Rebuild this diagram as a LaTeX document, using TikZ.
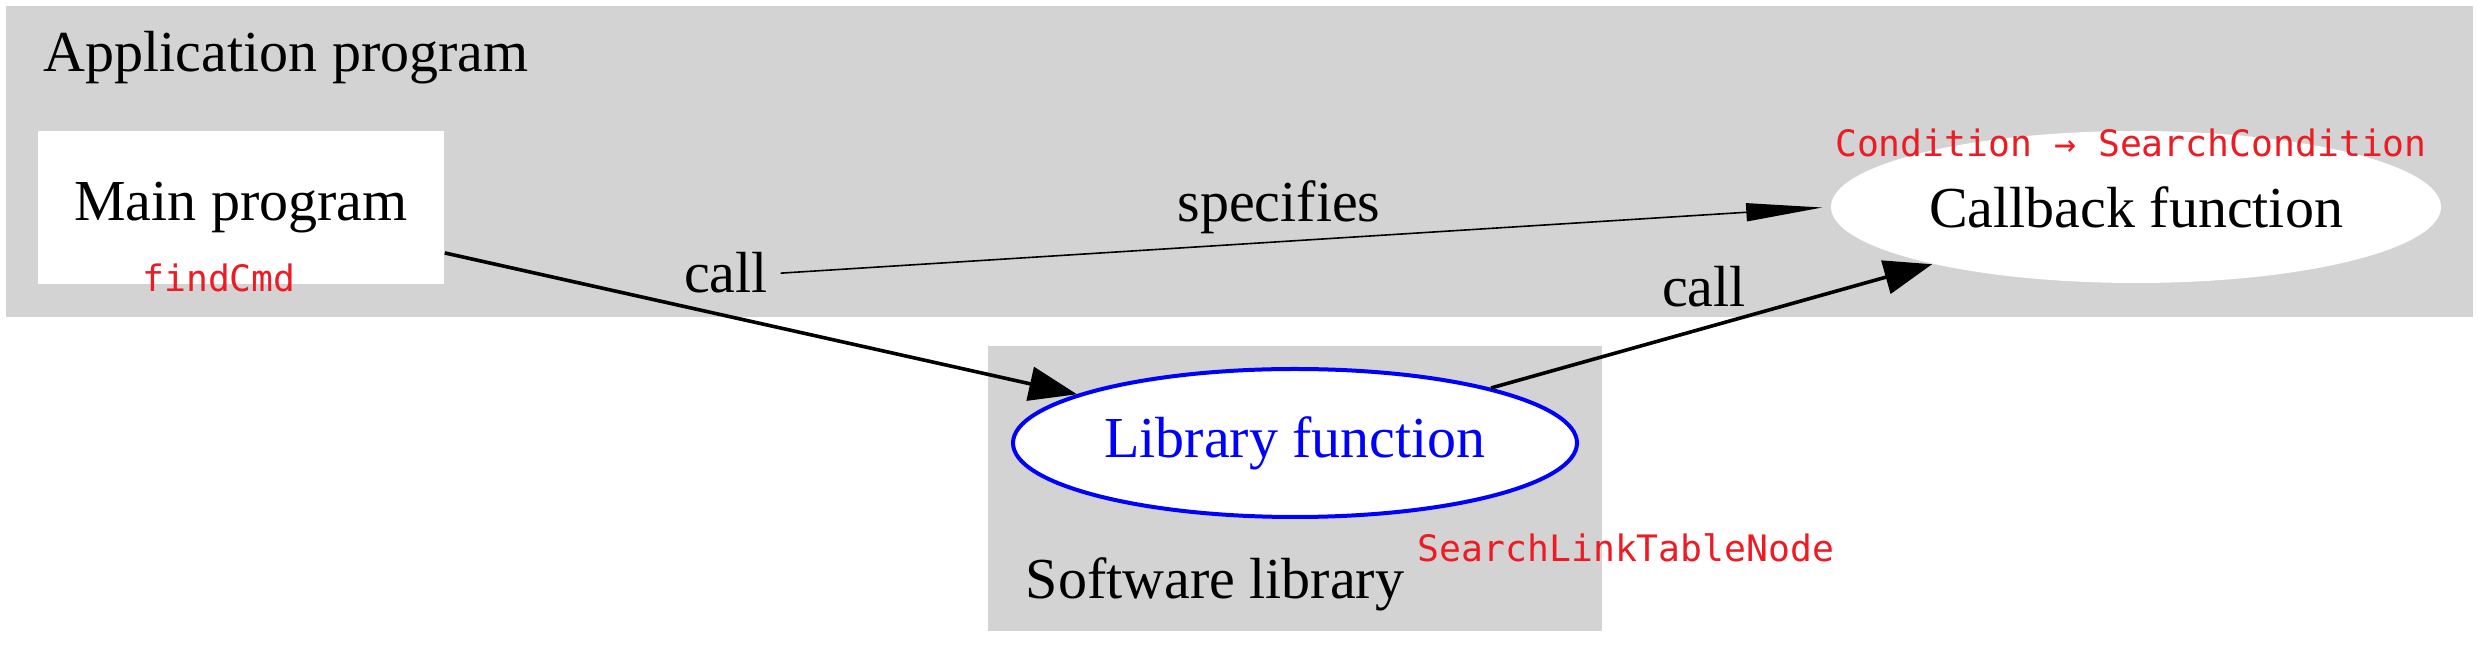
\documentclass[tikz,border=0pt]{standalone}
\usepackage{fontspec}
\setmainfont{Liberation Serif}
\setmonofont{DejaVu Sans Mono}
\usetikzlibrary{positioning,shapes.geometric,arrows.meta}

\definecolor{clustergray}{RGB}{211,211,211}
\definecolor{notered}{RGB}{237,28,36}

\tikzset{
  label text/.style={inner sep=0pt, font=\fontsize{14.5}{17}\selectfont},
  note/.style={inner sep=0pt, text=notered, font=\ttfamily\fontsize{9.1}{11}\selectfont},
  func/.style={ellipse, fill=white, inner sep=0pt, font=\fontsize{14.5}{17}\selectfont},
  callarrow/.style={line width=0.9pt, -{Triangle[length=12pt, width=8.5pt]}},
  specarrow/.style={line width=0.4pt, -{Triangle[length=19pt, width=4.5pt]}, shorten >=2pt}
}

\begin{document}
\begin{tikzpicture}[x=0.25pt, y=-0.25pt]

  \useasboundingbox (0,0) rectangle (2478,651);

  % clusters
  \fill[clustergray] (6,6) rectangle (2473,317);
  \fill[clustergray] (988,346) rectangle (1602,631);

  \node[label text, anchor=base west] (app) at (43,72) {Application program};
  \node[label text, anchor=base west] (swlib) at (1025,599) {Software library};

  \node[fill=white, inner sep=0pt, minimum width=101.5pt, minimum height=38.25pt,
        font=\fontsize{14.5}{17}\selectfont] (main) at (241,207.5) {Main program};
  \node[func, minimum width=152.5pt, minimum height=38pt] (cb) at (2136,207) {Callback function};
  \node[func, draw=blue, line width=1pt, text=blue, minimum width=141pt, minimum height=37pt]
    (lib) at (1295,443) {Library function};

  \node[note, anchor=base] (findcmd) at (219,292) {findCmd};
  \node[note, anchor=base] (cond) at (2131,157) {Condition → SearchCondition};
  \node[note, anchor=base west] (searchlink) at (1417,562) {SearchLinkTableNode};

  \node[label text, inner xsep=3pt, anchor=base] (call1) at (726,293) {call};
  \node[label text, anchor=base] (spec) at (1279,222) {specifies};
  \node[label text, anchor=base] (call2) at (1704,307) {call};

  \path[callarrow]
    (main) edge (lib)
    (lib) edge (cb);
  \path[specarrow]
    (call1.east) edge (cb.west);

\end{tikzpicture}
\end{document}
